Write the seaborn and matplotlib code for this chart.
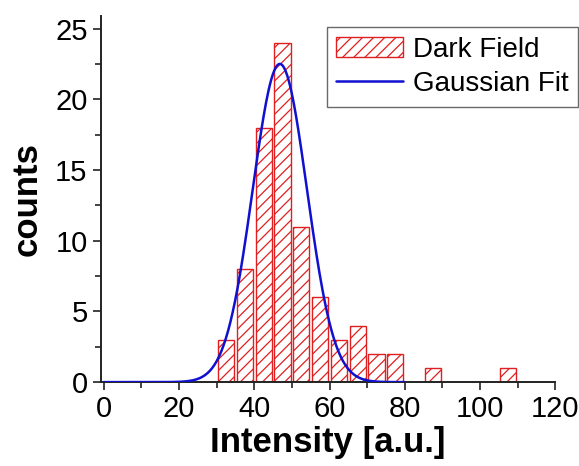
import numpy as np
import pandas as pd
import matplotlib
matplotlib.use("Agg")
import matplotlib.pyplot as plt
from matplotlib.ticker import MultipleLocator
import seaborn as sns

# Histogram data (bin centers, counts)
bin_centers = [32.5, 37.5, 42.5, 47.5, 52.5, 57.5, 62.5, 67.5, 72.5, 77.5, 82.5, 87.5, 92.5, 97.5, 102.5, 107.5]
counts = [3, 8, 18, 24, 11, 6, 3, 4, 2, 2, 0, 1, 0, 0, 0, 1]

# Gaussian fit parameters
fit_amplitude = 22.5
fit_center = 46.8
fit_sigma = 7.2
fit_x = np.linspace(0, 80, 400)
fit_y = fit_amplitude * np.exp(-0.5 * ((fit_x - fit_center) / fit_sigma) ** 2)

sns.set_style("ticks")
plt.rcParams['font.family'] = ['Liberation Sans', 'DejaVu Sans']
plt.rcParams['hatch.color'] = "#e02020"
plt.rcParams['hatch.linewidth'] = 0.9
plt.rcParams['text.color'] = "black"
plt.rcParams['axes.labelcolor'] = "black"

fig = plt.figure(figsize=(5.79, 4.66), dpi=100)
ax = fig.add_axes([0.174, 0.180, 0.785, 0.786])

df = pd.DataFrame({"x": bin_centers, "count": counts})
nonzero = df[df["count"] > 0]
bars = ax.bar(nonzero["x"], nonzero["count"], width=4.3, facecolor="white",
              edgecolor="#e02020", linewidth=1.0, hatch="///", label="Dark Field", zorder=2)

sns.lineplot(x=fit_x, y=fit_y, ax=ax, color="#1010d0", linewidth=1.8, label="Gaussian Fit", zorder=3)

ax.set_xlim(-0.8, 120)
ax.set_ylim(0, 25.9)
ax.xaxis.set_major_locator(MultipleLocator(20))
ax.xaxis.set_minor_locator(MultipleLocator(10))
ax.yaxis.set_major_locator(MultipleLocator(5))
ax.yaxis.set_minor_locator(MultipleLocator(2.5))
ax.tick_params(which="major", direction="out", length=6, width=1.2, labelsize=21, colors="#222222", labelcolor="black")
ax.tick_params(which="minor", direction="out", length=4, width=1.2, colors="#222222")
for s in ["top", "right"]:
    ax.spines[s].set_visible(False)
for s in ["left", "bottom"]:
    ax.spines[s].set_linewidth(1.4)
    ax.spines[s].set_color("#222222")

ax.set_xlabel("Intensity [a.u.]", fontsize=25, fontweight="bold", labelpad=2, color="black")
ax.set_ylabel("counts", fontsize=25, fontweight="bold", labelpad=8, color="black")

handles, labels = ax.get_legend_handles_labels()
order = [labels.index("Dark Field"), labels.index("Gaussian Fit")]
leg = ax.legend([handles[i] for i in order], [labels[i] for i in order],
                loc="upper right", bbox_to_anchor=(1.05, 0.97), fontsize=20, frameon=True, fancybox=False,
                edgecolor="#444444", borderpad=0.35, handlelength=2.4, handletextpad=0.35, labelspacing=0.3,
                borderaxespad=0.0)
leg.get_frame().set_linewidth(1.0)

fig.savefig("out.png", dpi=100)
